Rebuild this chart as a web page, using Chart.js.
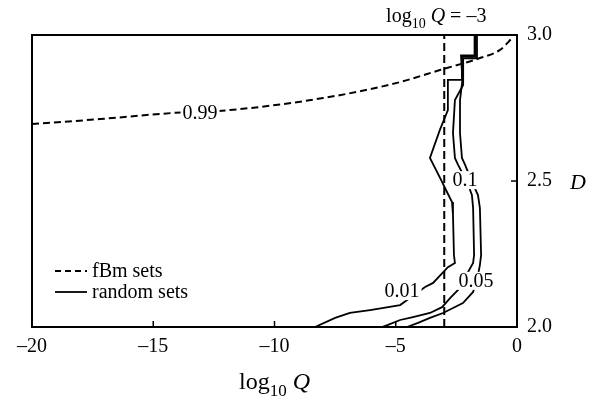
<!DOCTYPE html>
<html>
<head>
<meta charset="utf-8">
<script src="https://cdn.jsdelivr.net/npm/chart.js@4.4.1/dist/chart.umd.min.js"></script>
<style>
  html, body { margin: 0; padding: 0; background: #fff; }
  #wrap { width: 589px; height: 400px; position: relative; }
</style>
</head>
<body>
<div id="wrap"><canvas id="c"></canvas></div>
<script>
// ---- data ----
const xTickValues = [-20, -15, -10, -5, 0];
const xTickLabels = ['\u201320', '\u201315', '\u201310', '\u20135', '0'];
const yTickValues = [2.0, 2.5, 3.0];
const yTickLabels = ['2.0', '2.5', '3.0'];

// fBm sets, 0.99 contour (dashed)
const fbmX = [-20, -17.2, -14.19, -11.84, -8.0, -4.95, -3.18, -1.53, -0.70, -0.16];
const fbmD = [2.695, 2.712, 2.733, 2.743, 2.784, 2.836, 2.880, 2.921, 2.949, 2.993];

// random sets, 0.01 contour
const rand001X = [0, -1.7, -1.7, -2.27, -2.27, -2.85, -2.85, -3.18, -3.59, -3.09, -2.97, -2.68, -2.64, -2.60, -2.56, -2.85, -3.46, -3.79, -4.82, -6.06, -6.89, -7.5, -8.33];
const rand001D = [3.0, 3.0, 2.925, 2.925, 2.846, 2.846, 2.743, 2.675, 2.579, 2.497, 2.476, 2.428, 2.384, 2.247, 2.219, 2.205, 2.151, 2.137, 2.075, 2.058, 2.048, 2.031, 2.0];

// random sets, 0.05 contour
const rand005X = [0, -1.65, -1.65, -2.22, -2.22, -2.56, -2.64, -2.56, -2.43, -2.06, -1.86, -1.81, -1.77, -1.81, -2.43, -2.76, -3.09, -3.59, -4.29, -4.82, -5.32, -5.57];
const rand005D = [3.0, 3.0, 2.92, 2.92, 2.829, 2.777, 2.664, 2.579, 2.555, 2.497, 2.452, 2.408, 2.247, 2.219, 2.127, 2.099, 2.068, 2.048, 2.034, 2.024, 2.007, 2.0];

// random sets, 0.1 contour
const rand01X = [0, -1.75, -1.75, -2.31, -2.25, -2.35, -2.35, -2.27, -2.14, -1.86, -1.61, -1.53, -1.48, -1.53, -1.61, -1.81, -2.23, -3.05, -3.59, -4.08, -4.54];
const rand01D = [3.0, 3.0, 2.93, 2.93, 2.846, 2.777, 2.664, 2.579, 2.555, 2.497, 2.452, 2.408, 2.247, 2.212, 2.178, 2.12, 2.082, 2.048, 2.031, 2.014, 2.0];

// reference line log10 Q = -3
const refLineX = [-3, -3];
const refLineD = [2.0, 3.0];

// contour labels
const contourLabels = ['0.99', '0.1', '0.05', '0.01'];
const contourLabelX = [-13.07, -2.14, -1.69, -4.74];
const contourLabelD = [2.733, 2.503, 2.158, 2.123];

const legendLabels = ['fBm sets', 'random sets'];

// ---- build ----
const toPts = (xs, ys) => xs.map((x, i) => ({ x: x, y: ys[i] }));
const SERIF = '"Liberation Serif", "Times New Roman", serif';

const decor = {
  id: 'decor',
  afterDatasetsDraw(chart) {
    const ctx = chart.ctx;
    const a = chart.chartArea;
    const xs = chart.scales.x, ys = chart.scales.y;
    ctx.save();
    ctx.fillStyle = '#000';
    ctx.strokeStyle = '#000';

    // contour labels with white knock-out background
    ctx.font = '20px ' + SERIF;
    ctx.textAlign = 'center';
    ctx.textBaseline = 'middle';
    contourLabels.forEach((t, i) => {
      const px = xs.getPixelForValue(contourLabelX[i]);
      const py = ys.getPixelForValue(contourLabelD[i]);
      const w = ctx.measureText(t).width;
      ctx.fillStyle = '#fff';
      ctx.fillRect(px - w / 2 - 2, py - 9, w + 4, 18);
      ctx.fillStyle = '#000';
      ctx.fillText(t, px, py + 1);
    });

    // frame
    ctx.lineWidth = 2;
    ctx.setLineDash([]);
    ctx.strokeRect(a.left, a.top, a.right - a.left, a.bottom - a.top);

    // inward ticks
    ctx.lineWidth = 1.5;
    xTickValues.forEach(v => {
      const px = xs.getPixelForValue(v);
      ctx.beginPath(); ctx.moveTo(px, a.bottom); ctx.lineTo(px, a.bottom - 6); ctx.stroke();
    });
    yTickValues.forEach(v => {
      const py = ys.getPixelForValue(v);
      ctx.beginPath(); ctx.moveTo(a.right, py); ctx.lineTo(a.right - 6, py); ctx.stroke();
    });

    // legend
    const lx0 = a.left + 23, lx1 = a.left + 55;
    const ly1 = a.top + 236, ly2 = a.top + 257;
    ctx.lineWidth = 2;
    ctx.setLineDash([6, 4]);
    ctx.beginPath(); ctx.moveTo(lx0, ly1); ctx.lineTo(lx1, ly1); ctx.stroke();
    ctx.setLineDash([]);
    ctx.lineWidth = 1.8;
    ctx.beginPath(); ctx.moveTo(lx0, ly2); ctx.lineTo(lx1, ly2); ctx.stroke();
    ctx.font = '20px ' + SERIF;
    ctx.textAlign = 'left';
    ctx.textBaseline = 'alphabetic';
    ctx.fillText(legendLabels[0], lx1 + 5, ly1 + 6);
    ctx.fillText(legendLabels[1], lx1 + 5, ly2 + 6);

    // helper for "log10 Q" style text
    function logText(x, y, size, subSize, tail, centerX) {
      const parts = [
        { t: 'log', f: size + 'px ' + SERIF, dy: 0 },
        { t: '10', f: subSize + 'px ' + SERIF, dy: Math.round(size * 0.28) },
        { t: ' ', f: size + 'px ' + SERIF, dy: 0 },
        { t: 'Q', f: 'italic ' + size + 'px ' + SERIF, dy: 0 },
        { t: tail, f: size + 'px ' + SERIF, dy: 0 }
      ];
      let total = 0;
      parts.forEach(p => { ctx.font = p.f; p.w = ctx.measureText(p.t).width; total += p.w; });
      let cx = centerX ? x - total / 2 : x;
      parts.forEach(p => { ctx.font = p.f; ctx.fillText(p.t, cx, y + p.dy); cx += p.w; });
    }
    ctx.textAlign = 'left';
    ctx.textBaseline = 'alphabetic';
    // bottom axis title
    logText((a.left + a.right) / 2, a.bottom + 62, 24, 17, '', true);
    // top annotation
    logText(xs.getPixelForValue(-3) - 8, 22, 20, 14, ' = \u20133', true);
    // right axis title
    ctx.font = 'italic 22px ' + SERIF;
    ctx.fillText('D', a.right + 53, ys.getPixelForValue(2.5) + 8);
    ctx.restore();
  }
};

const solid = (data) => ({
  data: data, borderColor: '#000', borderWidth: 1.8, pointRadius: 0,
  fill: false, tension: 0
});

new Chart(document.getElementById('c'), {
  type: 'line',
  data: {
    datasets: [
      { data: toPts(fbmX, fbmD), borderColor: '#000', borderWidth: 2, borderDash: [7, 4],
        pointRadius: 0, fill: false, cubicInterpolationMode: 'monotone' },
      { data: toPts(refLineX, refLineD), borderColor: '#000', borderWidth: 2, borderDash: [8, 4],
        pointRadius: 0, fill: false },
      solid(toPts(rand001X, rand001D)),
      solid(toPts(rand005X, rand005D)),
      solid(toPts(rand01X, rand01D))
    ]
  },
  options: {
    responsive: true,
    maintainAspectRatio: false,
    animation: false,
    events: [],
    layout: { padding: { left: 32, top: 35, right: 0, bottom: 0 } },
    plugins: { legend: { display: false }, tooltip: { enabled: false } },
    scales: {
      x: {
        type: 'linear', position: 'bottom', min: -20, max: 0,
        grid: { display: false, drawTicks: false },
        border: { display: false },
        afterBuildTicks: s => { s.ticks = xTickValues.map(v => ({ value: v })); },
        afterFit: s => { s.height = 73; },
        ticks: {
          padding: 8, color: '#000', maxRotation: 0,
          font: { family: SERIF, size: 20 },
          callback: v => { const i = xTickValues.indexOf(v); return i >= 0 ? xTickLabels[i] : ''; }
        }
      },
      y: {
        type: 'linear', position: 'right', min: 2, max: 3,
        grid: { display: false, drawTicks: false },
        border: { display: false },
        afterBuildTicks: s => { s.ticks = yTickValues.map(v => ({ value: v })); },
        afterFit: s => { s.width = 72; },
        ticks: {
          padding: 10, color: '#000',
          font: { family: SERIF, size: 20 },
          callback: v => { const i = yTickValues.indexOf(v); return i >= 0 ? yTickLabels[i] : ''; }
        }
      }
    }
  },
  plugins: [decor]
});
</script>
</body>
</html>
